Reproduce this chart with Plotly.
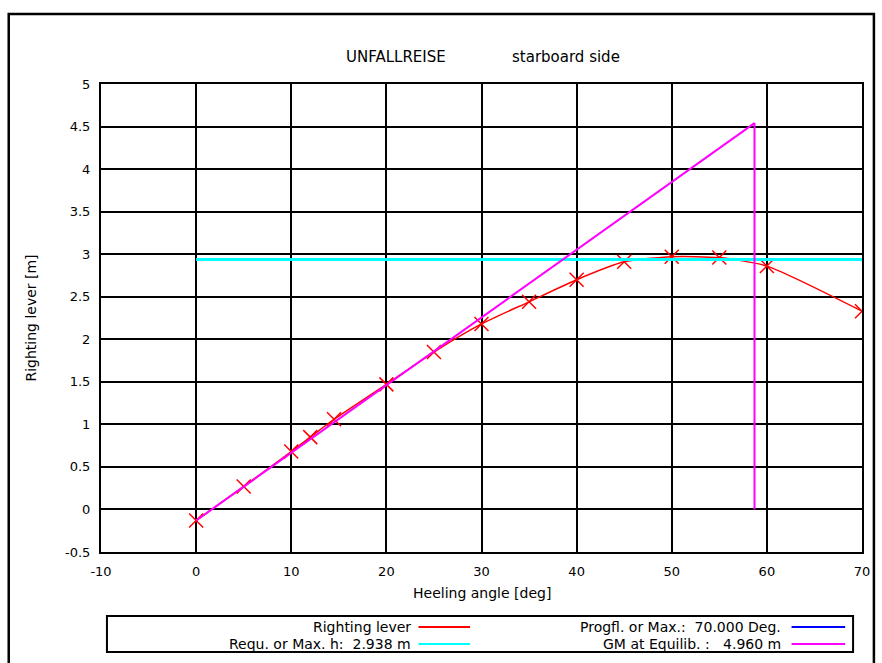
import plotly.graph_objects as go

# Righting lever curve (GZ) versus heeling angle
heel_deg = [0, 5, 10, 12, 14.5, 20, 25, 30, 35, 40, 45, 50, 55, 60, 70]
gz_m = [-0.13, 0.27, 0.68, 0.85, 1.06, 1.47, 1.85, 2.18, 2.44, 2.70, 2.91, 2.97, 2.96, 2.86, 2.33]

# Required / max. lever line
req_x = [0, 70]
req_y = [2.938, 2.938]

# GM tangent at equilibrium, with the drop line
gm_x = [0, 58.7, 58.7]
gm_y = [-0.13, 4.54, 0.0]

x_ticks = [-10, 0, 10, 20, 30, 40, 50, 60, 70]
y_ticks = [-0.5, 0, 0.5, 1, 1.5, 2, 2.5, 3, 3.5, 4, 4.5, 5]
y_tick_text = ["-0.5", "0", "0.5", "1", "1.5", "2", "2.5", "3", "3.5", "4", "4.5", "5"]
x_tick_text = ["-10", "0", "10", "20", "30", "40", "50", "60", "70"]

legend_left = [("Righting lever", "#ff0000"), ("Requ. or Max. h:  2.938 m", "#00ffff")]
legend_right = [("Progfl. or Max.:  70.000 Deg.", "#0000ff"), ("GM at Equilib. :   4.960 m", "#ff00ff")]

FONT = "DejaVu Sans"
W, H = 882, 663
L, R, T, B = 101, 868, 84, 552  # plot area in pixels

def px(x):
    return (x - L) / (R - L)

def py(y):
    return (B - y) / (B - T)

fig = go.Figure()
fig.add_trace(go.Scatter(
    x=heel_deg, y=gz_m, mode="lines+markers",
    line=dict(color="#ff0000", width=1.5, shape="spline", smoothing=0.6),
    marker=dict(symbol="x-thin", size=14, line=dict(color="#ff0000", width=1.5)),
))
fig.add_trace(go.Scatter(x=req_x, y=req_y, mode="lines",
                         line=dict(color="#00ffff", width=3)))
fig.add_trace(go.Scatter(x=gm_x, y=gm_y, mode="lines",
                         line=dict(color="#ff00ff", width=2)))

axis_common = dict(
    showgrid=True, gridcolor="black", gridwidth=2,
    showline=True, linecolor="black", linewidth=2, mirror=True,
    zeroline=False, ticks="outside", tickcolor="rgba(0,0,0,0)",
    tickfont=dict(family=FONT, size=13, color="black"),
)
fig.update_xaxes(range=[-10, 70], tickvals=x_ticks, ticktext=x_tick_text,
                 ticklen=6, **axis_common)
fig.update_yaxes(range=[-0.5, 5], tickvals=y_ticks, ticktext=y_tick_text,
                 ticklen=6, **axis_common)

shapes = []
annotations = []

def label(text, x, y, size, xanchor="center", angle=0):
    annotations.append(dict(text=text, x=px(x), y=py(y), xref="paper", yref="paper",
                            xanchor=xanchor, yanchor="middle", textangle=angle,
                            showarrow=False, font=dict(family=FONT, size=size, color="black")))

# outer frame
shapes.append(dict(type="rect", xref="paper", yref="paper",
                   x0=px(8), x1=px(880), y0=py(675), y1=py(14),
                   line=dict(color="black", width=2.5)))

# title
label("UNFALLREISE", 398, 57, 15)
label("starboard side", 570, 57, 15)

# axis titles
label("Heeling angle [deg]", 485, 593, 14)
label("Righting lever [m]", 30, 318, 14, angle=-90)

# legend box
shapes.append(dict(type="rect", xref="paper", yref="paper",
                   x0=px(107), x1=px(859), y0=py(652), y1=py(616),
                   line=dict(color="black", width=2), fillcolor="white"))
rows_y = [627, 644]
for (text, color), ry in zip(legend_left, rows_y):
    label(text, 415, ry, 14, xanchor="right")
    shapes.append(dict(type="line", xref="paper", yref="paper",
                       x0=px(421), x1=px(473), y0=py(ry), y1=py(ry),
                       line=dict(color=color, width=2)))
for (text, color), ry in zip(legend_right, rows_y):
    label(text, 788, ry, 14, xanchor="right")
    shapes.append(dict(type="line", xref="paper", yref="paper",
                       x0=px(797), x1=px(851), y0=py(ry), y1=py(ry),
                       line=dict(color=color, width=2)))

fig.update_layout(
    width=W, height=H,
    margin=dict(l=L, r=W - R, t=T, b=H - B),
    paper_bgcolor="white", plot_bgcolor="white",
    showlegend=False,
    shapes=shapes, annotations=annotations,
    font=dict(family=FONT, size=13, color="black"),
)

fig.write_html("out.html")
